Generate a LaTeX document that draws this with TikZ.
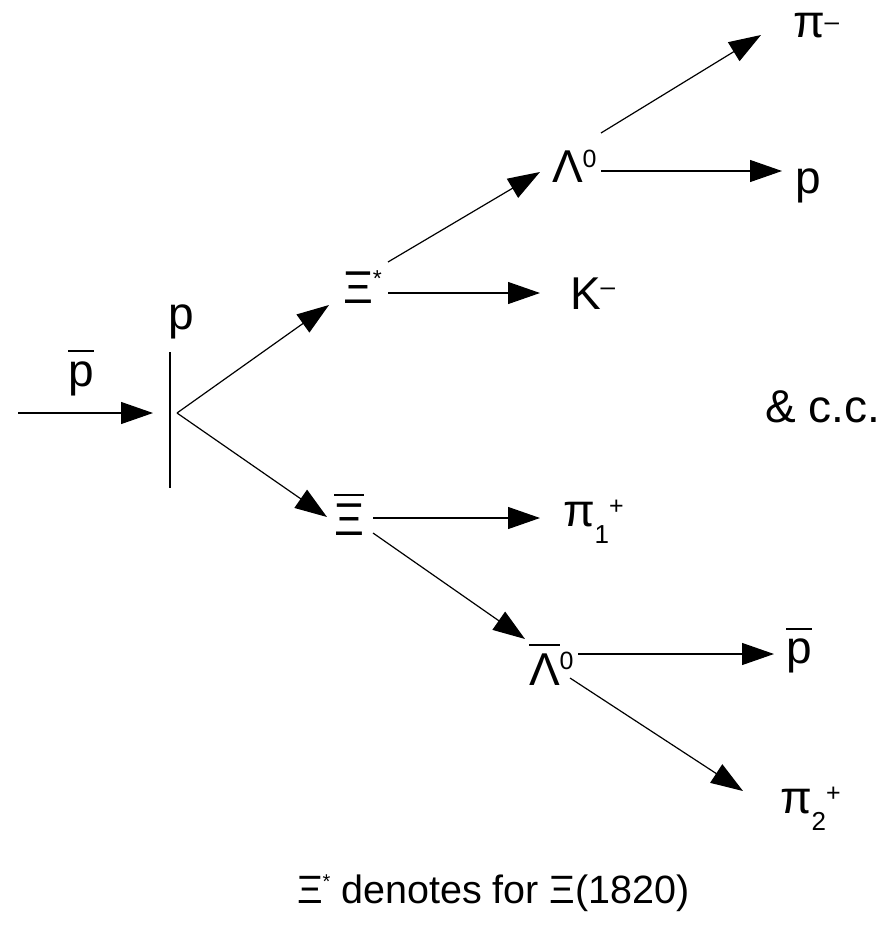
\documentclass[tikz,border=0pt]{standalone}
\usepackage{fontspec}
\setmainfont{Liberation Sans}
\usetikzlibrary{arrows.meta}
\newcommand\supx[3][25]{\raisebox{#2}{\fontsize{#1}{#1}\selectfont #3}}
\newcommand\subx[2]{\raisebox{#1}{\fontsize{26}{26}\selectfont #2}}
\newcommand\ovlx[3]{\vbox{\hrule height #1\kern#2\hbox{#3}}}
\begin{document}
\begin{tikzpicture}[x=1pt,y=-1pt,
  lab/.style={inner sep=0pt,outer sep=0pt,anchor=base west,font=\fontsize{46}{50}\selectfont},
  arr/.style={line width=1.2pt,-{Triangle[length=32pt,width=22pt]}},
  ln/.style={line width=1.2pt}]
\useasboundingbox (0,0) rectangle (893,927);

% labels
\node[lab] (pbin) at (68,386) {\ovlx{2pt}{9pt}{p}};
\node[lab] (ptgt) at (168,329) {p};
\node[lab] (xis) at (343,303) {Ξ\supx[23]{17pt}{*}};
\node[lab] (km) at (570,309) {K\supx[26]{14pt}{–}};
\node[lab] (lam) at (552,182) {Λ\supx{15pt}{0}};
\node[lab] (pim) at (793,37) {π\supx[26]{7pt}{–}};
\node[lab] (pp) at (795,193) {p};
\node[lab] (xib) at (334,535) {\ovlx{2pt}{7pt}{Ξ}};
\node[lab] (pi1) at (563,526) {π\subx{-17pt}{1}\supx{12pt}{+}};
\node[lab] (lamb) at (529,685) {\ovlx{2pt}{7pt}{Λ}\supx{16pt}{0}};
\node[lab] (pbout) at (786,663) {\ovlx{2pt}{8pt}{p}};
\node[lab] (pi2) at (780,813) {π\subx{-17pt}{2}\supx{12pt}{+}};
\node[lab] (cc) at (765,422) {\& c.c.};
\node[lab,font=\fontsize{39.5}{44}\selectfont] (note) at (297,903) {Ξ\supx[20]{15pt}{*} denotes for Ξ(1820)};

% connector end points
\coordinate (in0) at (18,413);
\coordinate (in1) at (153,413);
\coordinate (tg0) at (170,352);
\coordinate (tg1) at (170,488);
\coordinate (vtx) at (177,413);
\coordinate (xis-in) at (329,305);
\coordinate (xib-in) at (327,517);
\coordinate (xis-a) at (388,262);
\coordinate (lam-in) at (540,172);
\coordinate (xis-b) at (388,293);
\coordinate (km-in) at (540,293);
\coordinate (lam-a) at (601,133);
\coordinate (pim-in) at (761,35);
\coordinate (lam-b) at (601,171);
\coordinate (pp-in) at (782,171);
\coordinate (xib-a) at (373,518);
\coordinate (pi1-in) at (540,518);
\coordinate (xib-b) at (373,533);
\coordinate (lamb-in) at (525,639);
\coordinate (lamb-a) at (578,654);
\coordinate (pbout-in) at (774,654);
\coordinate (lamb-b) at (570,678);
\coordinate (pi2-in) at (743,791);

% connectors
\draw[arr] (in0) -- (in1);
\draw[ln] (tg0) -- (tg1);
\draw[arr] (vtx) -- (xis-in);
\draw[arr] (vtx) -- (xib-in);
\draw[arr] (xis-a) -- (lam-in);
\draw[arr] (xis-b) -- (km-in);
\draw[arr] (lam-a) -- (pim-in);
\draw[arr] (lam-b) -- (pp-in);
\draw[arr] (xib-a) -- (pi1-in);
\draw[arr] (xib-b) -- (lamb-in);
\draw[arr] (lamb-a) -- (pbout-in);
\draw[arr] (lamb-b) -- (pi2-in);
\end{tikzpicture}
\end{document}
